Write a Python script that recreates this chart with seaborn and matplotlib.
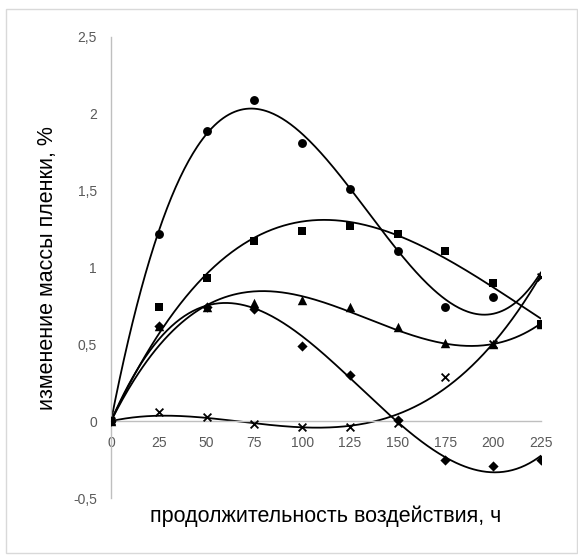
import numpy as np
import pandas as pd
import matplotlib
matplotlib.use("Agg")
import matplotlib.pyplot as plt
import seaborn as sns
from matplotlib.patches import Rectangle

sns.set_theme(style="white")
plt.rcParams['font.family'] = ['Liberation Sans', 'DejaVu Sans']

hours = [0, 25, 50, 75, 100, 125, 150, 175, 200, 225]
# last circle value has no visible marker in the reference (hidden), used only for the trend
circle = [0, 1.22, 1.89, 2.09, 1.81, 1.51, 1.11, 0.74, 0.81, 0.92]
square = [0, 0.74, 0.93, 1.17, 1.24, 1.27, 1.22, 1.11, 0.90, 0.63]
triangle = [0, 0.62, 0.74, 0.77, 0.79, 0.74, 0.61, 0.51, 0.50, 0.63]
diamond = [0, 0.62, 0.74, 0.73, 0.49, 0.30, 0.01, -0.25, -0.29, -0.25]
cross = [0, 0.06, 0.03, -0.02, -0.04, -0.04, -0.01, 0.29, 0.50, 0.94]

series = [("circle", circle, "o", 6.4, 200),
          ("square", square, "s", 6.2, 225),
          ("triangle", triangle, "^", 6.8, 225),
          ("diamond", diamond, "D", 5.2, 225),
          ("cross", cross, "x", 5.6, 225)]

yticks = [-0.5, 0, 0.5, 1, 1.5, 2, 2.5]
ytick_labels = ["-0,5", "0", "0,5", "1", "1,5", "2", "2,5"]
xticks = [0, 25, 50, 75, 100, 125, 150, 175, 200, 225]

fig = plt.figure(figsize=(5.78, 5.55), dpi=100)
ax = fig.add_axes([111/578, 1-498/555, 430/578, 461/555])

xs = np.linspace(0, 225, 300)
for name, vals, mk, ms, shown_to in series:
    df = pd.DataFrame({"x": hours, "y": vals}).dropna()
    x = df["x"].to_numpy(float)
    A = np.column_stack([x, x**2, x**3])
    c, *_ = np.linalg.lstsq(A, df["y"].to_numpy(float), rcond=None)
    yfit = c[0]*xs + c[1]*xs**2 + c[2]*xs**3
    fit = pd.DataFrame({"x": xs, "y": yfit})
    sns.lineplot(data=fit, x="x", y="y", ax=ax, color="black", lw=1.3, zorder=2)
    sns.scatterplot(data=df[df["x"] <= shown_to], x="x", y="y", ax=ax,
                    marker=mk, s=ms**2, color="black", edgecolor="black",
                    linewidth=1.3 if mk == "x" else 0, zorder=3)

ax.set_xlim(0, 225)
ax.set_ylim(-0.5, 2.5)
ax.set_xticks(xticks)
ax.set_xticklabels([str(v) for v in xticks])
ax.set_yticks(yticks)
ax.set_yticklabels(ytick_labels)
ax.tick_params(axis="both", length=0, labelsize=10, colors="#595959")
ax.tick_params(axis="y", pad=10)
ax.tick_params(axis="x", pad=11)
for s in ["top", "right"]:
    ax.spines[s].set_visible(False)
ax.spines["bottom"].set_position(("data", 0))
ax.spines["left"].set_color("#bfbfbf")
ax.spines["bottom"].set_color("#bfbfbf")
ax.spines["left"].set_linewidth(1.0)
ax.spines["bottom"].set_linewidth(1.0)
ax.set_xlabel("")
ax.set_ylabel("")
ax.grid(False)

fig.text(326/578, 1-516/555, "продолжительность воздействия, ч",
         ha="center", va="center", fontsize=15.5, color="black")
fig.text(48/578, 1-268/555, "изменение массы пленки, %", rotation=90,
         ha="center", va="center", fontsize=15.5, color="black")

fig.patches.append(Rectangle((6/578, 1-553/555), 571/578, 544/555,
                             transform=fig.transFigure, fill=False,
                             edgecolor="#d9d9d9", lw=1.0))

fig.savefig("out.png", dpi=100)
